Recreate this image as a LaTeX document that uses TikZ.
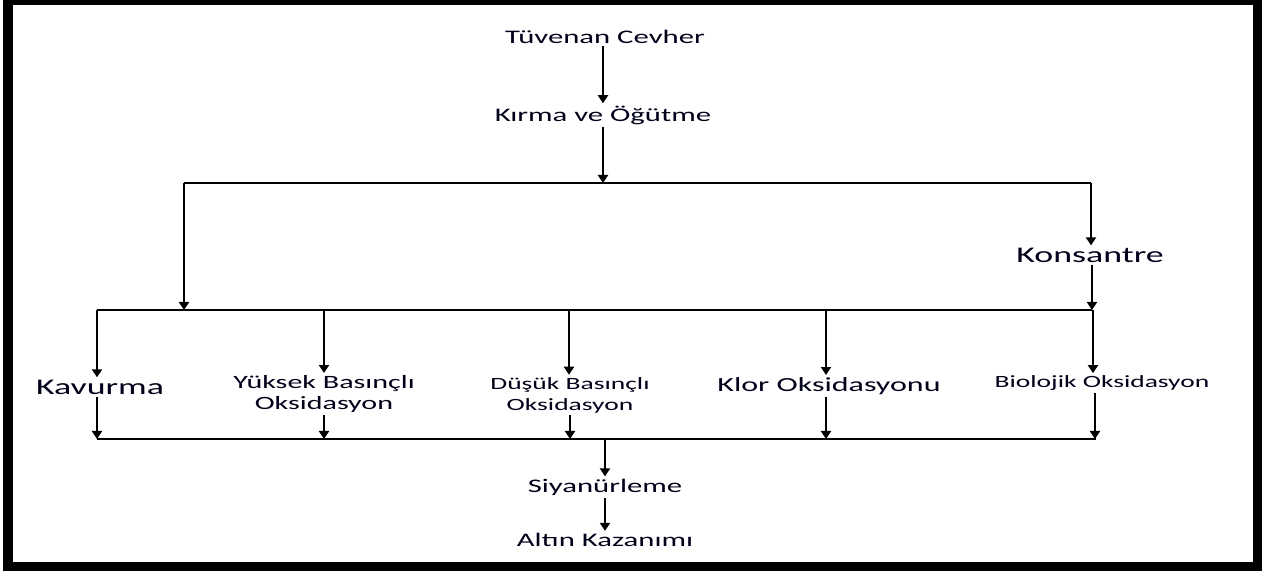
\documentclass[tikz,border=0pt]{standalone}
\usepackage{fontspec}
\setmainfont{Carlito}[FakeStretch=1.6]
\usetikzlibrary{arrows.meta}
\begin{document}
\begin{tikzpicture}[x=0.5pt,y=-0.5pt,
  lbl/.style={inner sep=1pt, text=black!90!blue},
  big/.style={lbl, font=\fontsize{9.6}{11}\selectfont},
  huge/.style={lbl, font=\fontsize{11.2}{12}\selectfont},
  small/.style={lbl, font=\fontsize{8.6}{10.5}\selectfont, align=center},
  wire/.style={line width=1.25pt},
  arr/.style={wire, -{Triangle[length=4pt,width=5pt]}}]
\useasboundingbox (0,0) rectangle (1266,572);
% frame
\draw[line width=4.5pt] (8,0.5) rectangle (1257,566.5);

% text nodes
\node[big]   (tuv) at (605,37)  {Tüvenan Cevher};
\node[big]   (kir) at (603,115) {Kırma ve Öğütme};
\node[huge]  (kon) at (1090,255) {Konsantre};
\node[huge]  (kav) at (100,387) {Kavurma};
\node[small, font=\fontsize{9.4}{10.5}\selectfont] (yuk) at (324,394) {Yüksek Basınçlı\\Oksidasyon};
\node[small] (dus) at (570,395) {Düşük Basınçlı\\Oksidasyon};
\node[huge, font=\fontsize{10}{12}\selectfont] (klo) at (829,386) {Klor Oksidasyonu};
\node[small] (bio) at (1102,383) {Biolojik Oksidasyon};
\node[big]   (siy) at (605,487) {Siyanürleme};
\node[big]   (alt) at (605,540) {Altın Kazanımı};

% bus junctions
\coordinate (b1l) at (184,183);
\coordinate (b1r) at (1091,183);
\coordinate (b1m) at (603,183);
\coordinate (b2l) at (97,310);
\coordinate (b2r) at (1092,310);
\coordinate (b2a) at (184,310);
\coordinate (d1) at (97,310);
\coordinate (d2) at (324,310);
\coordinate (d3) at (569,310);
\coordinate (d4) at (826,310);
\coordinate (d5) at (1093,310);
\coordinate (b3l) at (97,439);
\coordinate (b3r) at (1096,439);
\coordinate (u1) at (97,439);
\coordinate (u2) at (324,439);
\coordinate (u3) at (570,439);
\coordinate (u4) at (826,439);
\coordinate (u5) at (1095,439);
\coordinate (b3m) at (605,439);

% main line
\draw[arr] (kir.north |- tuv.south) -- (kir.north);
\draw[arr] (kir.south) -- (b1m);
\draw[wire] (b1l) -- (b1r);
\draw[arr] (b1l) -- (b2a);
\draw[arr] (b1r) -- (b1r |- kon.north);
\draw[arr] (kon.south -| b2r) -- (b2r);
\draw[wire] (b2l) -- (b2r);

% branches down to the processes
\draw[arr] (d1) -- (d1 |- kav.north);
\draw[arr] (d2) -- (d2 |- yuk.north);
\draw[arr] (d3) -- (d3 |- dus.north);
\draw[arr] (d4) -- (d4 |- klo.north);
\draw[arr] (d5) -- (d5 |- bio.north);

% processes into the collector line
\draw[arr] (u1 |- kav.south) -- (u1);
\draw[arr] (u2 |- yuk.south) -- (u2);
\draw[arr] (u3 |- dus.south) -- (u3);
\draw[arr] (u4 |- klo.south) -- (u4);
\draw[arr] (u5 |- bio.south) -- (u5);
\draw[wire] (b3l) -- (b3r);

\draw[arr] (b3m) -- (siy.north);
\draw[arr] (siy.south) -- (alt.north);
\end{tikzpicture}
\end{document}
